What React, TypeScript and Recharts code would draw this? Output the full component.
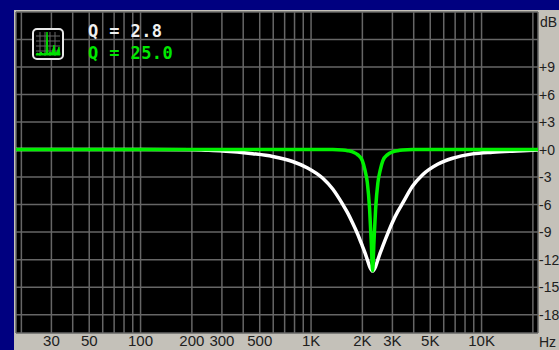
import React from 'react';
import { LineChart, Line, XAxis, YAxis, CartesianGrid } from 'recharts';

// frequency (Hz) of every point, log spaced by eye, denser round the notch
const freqs = [18, 50, 100, 200, 247, 302, 455, 595, 779, 954, 1168, 1340, 1531, 1639, 1753, 1875, 1998, 2075, 2138, 2205, 2256, 2296, 2337, 2391, 2466, 2541, 2638, 2811, 3008, 3217, 3444, 3934, 4512, 5524, 6764, 8856, 11595, 17450, 22000];
const whiteDb = [0, 0, 0, -0.03, -0.08, -0.15, -0.45, -0.75, -1.3, -2.0, -3.1, -4.3, -5.95, -6.9, -8.0, -9.2, -10.5, -11.3, -12.0, -12.75, -13.1, -13.25, -13.1, -12.75, -12.0, -11.3, -10.5, -9.2, -7.9, -6.8, -5.85, -4.0, -2.74, -1.6, -0.95, -0.47, -0.28, -0.12, -0.05];
const greenDb = [0, 0, 0, 0, 0, 0, 0, 0, 0, 0, 0, 0, -0.05, -0.12, -0.25, -0.55, -1.2, -2.3, -3.6, -6.5, -10.2, -13.2, -10.2, -6.5, -3.6, -2.3, -1.2, -0.55, -0.25, -0.12, -0.05, 0, 0, 0, 0, 0, 0, 0, 0];

const gridFreqs = [20, 30, 40, 50, 60, 70, 80, 90, 100, 200, 300, 400, 500, 600, 700, 800, 900, 1000, 2000, 3000, 4000, 5000, 6000, 7000, 8000, 9000, 10000, 20000];
const freqLabels: Record<number, string> = { 30: '30', 50: '50', 100: '100', 200: '200', 300: '300', 500: '500', 1000: '1K', 2000: '2K', 3000: '3K', 5000: '5K', 10000: '10K' };
const dbTicks = [12, 9, 6, 3, 0, -3, -6, -9, -12, -15, -18];
const dbLabels: Record<number, string> = { 12: '', 9: '+9', 6: '+6', 3: '+3', 0: '+0', '-3': '-3', '-6': '-6', '-9': '-9', '-12': '-12', '-15': '-15', '-18': '-18' };

const chartData = freqs.map((f, i) => ({ f, white: whiteDb[i], green: greenDb[i] }));

const labelFont = { fontFamily: 'Liberation Sans', fontSize: 14, fill: '#202020' };

const Badge = () => (
  <svg width={32} height={32} style={{ position: 'absolute', left: 32, top: 28 }}>
    <rect x={1} y={1} width={30} height={30} rx={4} fill="#000" stroke="#e8e8e8" strokeWidth={2} />
    {[8, 13, 18, 23].map(v => <line key={v} x1={v} x2={v} y1={4} y2={28} stroke="#666" />)}
    {[8, 13, 18, 23].map(v => <line key={v} y1={v} y2={v} x1={4} x2={28} stroke="#666" />)}
    <path d="M4 27 L5 25 L7 26 L9 24 L11 26 L13 25 L14 26 L15 4 L16 26 L18 24 L20 25 L22 17 L23 25 L25 24 L27 19 L28 27 Z" fill="#00e000" stroke="#00e000" />
  </svg>
);

const App = () => (
  <div style={{ position: 'absolute', left: 0, top: 0, width: 559, height: 350, background: '#000080', overflow: 'hidden' }}>
    <div style={{ position: 'absolute', left: 14, top: 10, width: 545, height: 340, background: '#c4c1b9' }} />
    <div style={{ position: 'absolute', left: 0, top: 0 }}>
      <LineChart width={559} height={350} data={chartData} margin={{ top: 12, right: 0, bottom: 0, left: 16 }}>
        <CartesianGrid fill="#000" stroke="#666" strokeWidth={1.5} />
        <XAxis
          dataKey="f"
          type="number"
          scale="log"
          domain={[18.6, 21430]}
          allowDataOverflow
          ticks={gridFreqs}
          interval={0}
          height={17}
          axisLine={false}
          tickLine={false}
          tickSize={0}
          tickMargin={2}
          tick={{ ...labelFont, fontSize: 15 }}
          tickFormatter={(v: number) => freqLabels[v] ?? ''}
        />
        <YAxis
          orientation="right"
          type="number"
          domain={[-20, 15]}
          ticks={dbTicks}
          interval={0}
          width={21}
          axisLine={false}
          tickLine={false}
          tickSize={0}
          tickMargin={1}
          tick={{ ...labelFont, textAnchor: 'start' }}
          tickFormatter={(v: number) => dbLabels[v]}
        />
        <Line type="monotone" dataKey="white" stroke="#ffffff" strokeWidth={3.5} dot={false} isAnimationActive={false} />
        <Line type="monotone" dataKey="green" stroke="#00f000" strokeWidth={3.5} dot={false} isAnimationActive={false} />
      </LineChart>
    </div>
    <Badge />
    <div style={{ position: 'absolute', left: 88, top: 21, fontFamily: 'DejaVu Sans Mono', fontSize: 17, letterSpacing: 0.4, fontWeight: 'bold', color: '#f0f0f0', lineHeight: '20px' }}>Q = 2.8</div>
    <div style={{ position: 'absolute', left: 88, top: 43, fontFamily: 'DejaVu Sans Mono', fontSize: 17, letterSpacing: 0.4, fontWeight: 'bold', color: '#00e800', lineHeight: '20px' }}>Q = 25.0</div>
    <div style={{ position: 'absolute', left: 540, top: 14, fontFamily: 'Liberation Sans', fontSize: 14, color: '#202020' }}>dB</div>
    <div style={{ position: 'absolute', left: 539, top: 334, fontFamily: 'Liberation Sans', fontSize: 14, color: '#202020' }}>Hz</div>
  </div>
);

export default App;
